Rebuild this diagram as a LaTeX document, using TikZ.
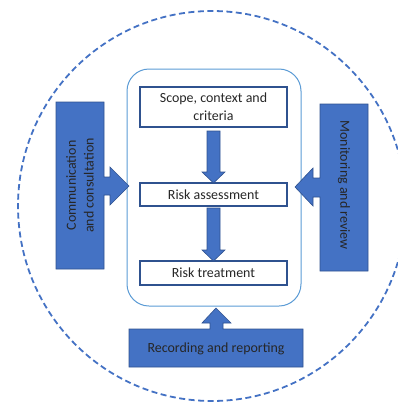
\documentclass[tikz,border=0pt]{standalone}
\usepackage{fontspec}
\setmainfont{Carlito}
\usetikzlibrary{calc}
\definecolor{fillblue}{HTML}{4472C4}
\definecolor{edgeblue}{HTML}{2F528F}
\definecolor{lightblue}{HTML}{5B9BD5}
\begin{document}
\begin{tikzpicture}[x=1bp,y=-1bp,
  stagebox/.style={draw=edgeblue,line width=1.4bp,fill=white,minimum width=147bp,inner sep=0pt,align=center,font=\fontsize{14}{18}\selectfont,text=black!85},
  bluepart/.style={fill=fillblue,draw=edgeblue,line width=0.6bp,line join=miter},
  label/.style={font=\fontsize{14}{18}\selectfont,text=black!85,align=center,inner sep=0pt}]
\useasboundingbox (0,0) rectangle (398,403);
% outer dashed ring
\draw[fillblue,line width=1.8bp,dash pattern=on 6bp off 3.5bp] (212,206) ellipse [x radius=194, y radius=195];
% process frame
\draw[lightblue,line width=1bp,rounded corners=22bp] (127,69) rectangle (301,306);
% process stages
\node[stagebox,minimum height=40bp] (scope) at (213.5,107) {Scope, context and\\criteria};
\node[stagebox,minimum height=23bp] (assess) at (213.5,194.5) {Risk assessment};
\node[stagebox,minimum height=24bp] (treat) at (213.5,273) {Risk treatment};
% arrows between stages
\draw[bluepart] (207,131) -- (220,131) -- (220,172) -- (225,172) -- (213.5,183) -- (202,172) -- (207,172) -- cycle;
\draw[bluepart] (207,208) -- (220,208) -- (220,250) -- (225,250) -- (213.5,261) -- (202,250) -- (207,250) -- cycle;
% left callout
\draw[bluepart] (56,102) -- (104,102) -- (104,177) -- (110,177) -- (110,167) -- (129,186) -- (110,205) -- (110,195) -- (104,195) -- (104,269) -- (56,269) -- cycle;
\node[label,rotate=90] (comm) at (80,185.5) {Communication\\and consultation};
% right callout
\draw[bluepart] (368,104) -- (320,104) -- (320,178) -- (313,178) -- (313,168) -- (295,187) -- (313,206) -- (313,197) -- (320,197) -- (320,271) -- (368,271) -- cycle;
\node[label,rotate=-90] (monit) at (344,185) {Monitoring and review};
% bottom callout
\draw[bluepart] (129,329) -- (210,329) -- (210,323) -- (202,323) -- (216,308) -- (231,323) -- (223,323) -- (223,329) -- (303,329) -- (303,367) -- (129,367) -- cycle;
\node[label] (record) at (216,349) {Recording and reporting};
\end{tikzpicture}
\end{document}
